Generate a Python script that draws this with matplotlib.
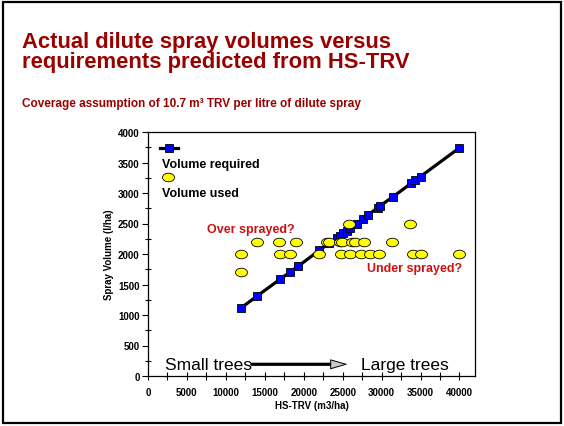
import matplotlib
matplotlib.use("Agg")
import matplotlib.pyplot as plt
from matplotlib.path import Path
from matplotlib.transforms import Affine2D
from matplotlib.ticker import MultipleLocator
from matplotlib.patches import Rectangle

plt.rcParams['font.family'] = ['Liberation Sans', 'DejaVu Sans']

# volume required (HS-TRV m3/ha, spray l/ha)
req_x = [12000, 14000, 17000, 18200, 19300, 22000, 23300, 24300, 24600, 25000, 25500,
         26000, 26800, 27600, 28300, 29500, 29800, 31500, 33800, 34300, 35000, 40000]
req_y = [1120, 1310, 1590, 1700, 1800, 2060, 2180, 2270, 2300, 2340, 2380,
         2430, 2500, 2580, 2640, 2760, 2790, 2940, 3160, 3210, 3270, 3740]

# volume used
used_x = [12000,
          12000, 17000, 18200, 22000, 24800, 26000, 27400, 28500, 29700, 34000, 35000, 40000,
          14000, 16800, 19000, 23000, 23300, 24600, 24900, 26200, 26600, 27700, 31300,
          25800, 33700]
used_y = [1700,
          2000, 2000, 2000, 2000, 2000, 2000, 2000, 2000, 2000, 2000, 2000, 2000,
          2200, 2200, 2200, 2200, 2200, 2200, 2200, 2200, 2200, 2200, 2200,
          2500, 2500]

title1 = "Actual dilute spray volumes versus"
title2 = "requirements predicted from HS-TRV"
subtitle = "Coverage assumption of 10.7 m\u00b3 TRV per litre of dilute spray"
dark_red = '#990000'
red = '#cc1111'

fig = plt.figure(figsize=(5.64, 4.27), dpi=100)
W, H = 564, 427

# slide frame
fig.patches.append(Rectangle((3 / W, 3 / H), 558 / W, 421 / H, transform=fig.transFigure,
                             fill=False, edgecolor='black', lw=1.6))

fig.text(22 / W, 1 - 48 / H, title1, color=dark_red, fontsize=15.8, fontweight='bold', va='baseline')
fig.text(22 / W, 1 - 68 / H, title2, color=dark_red, fontsize=15.8, fontweight='bold', va='baseline')
fig.text(22 / W, 1 - 107.5 / H, subtitle, color=dark_red, fontsize=8.5, fontweight='bold', va='baseline')

ax = fig.add_axes([148 / W, 1 - 377 / H, 327 / W, 244 / H])

ell = Path.unit_circle().transformed(Affine2D().scale(1.0, 0.72))

ax.plot(req_x, req_y, '-s', color='black', lw=2.3, ms=6.4, mfc='#0000ff', mec='black', mew=0.6,
        zorder=3, clip_on=False)
ax.plot(used_x, used_y, ls='none', marker=ell, ms=8.6, mfc='#ffff00', mec='black', mew=0.6,
        zorder=4, clip_on=False)

ax.set_xlim(0, 42000)
ax.set_ylim(0, 4000)
ax.xaxis.set_major_locator(MultipleLocator(5000))
ax.xaxis.set_minor_locator(MultipleLocator(2500))
ax.yaxis.set_major_locator(MultipleLocator(500))
ax.yaxis.set_minor_locator(MultipleLocator(250))
ax.set_xticks([0, 5000, 10000, 15000, 20000, 25000, 30000, 35000, 40000])
ax.tick_params(axis='x', which='both', direction='inout', length=6, width=0.8)
ax.tick_params(axis='y', which='major', direction='out', length=4, width=0.8)
ax.tick_params(axis='y', which='minor', direction='inout', length=5, width=0.8)
ax.tick_params(which='both', top=False, right=False)
for lab in ax.get_xticklabels() + ax.get_yticklabels():
    lab.set_fontsize(7)
    lab.set_fontweight('bold')
ax.tick_params(axis='x', pad=5)
ax.tick_params(axis='y', pad=2)
for s in ax.spines.values():
    s.set_linewidth(0.9)

ax.set_xlabel("HS-TRV (m3/ha)", fontsize=7, fontweight='bold', labelpad=2)
ax.set_ylabel("Spray Volume (l/ha)", fontsize=7, fontweight='bold', labelpad=3)

# legend drawn inside the plot area
ax.plot([0.037, 0.092], [0.934, 0.934], color='black', lw=2.3, transform=ax.transAxes)
ax.plot([0.064], [0.934], 's', ms=6.4, mfc='#0000ff', mec='black', mew=0.6, transform=ax.transAxes)
ax.text(0.043, 0.869, "Volume required", fontsize=9, fontweight='bold', va='center',
        transform=ax.transAxes)
ax.plot([0.061], [0.816], ls='none', marker=ell, ms=8.6, mfc='#ffff00', mec='black', mew=0.6,
        transform=ax.transAxes)
ax.text(0.043, 0.75, "Volume used", fontsize=9, fontweight='bold', va='center',
        transform=ax.transAxes)

ax.text(7560, 2405, "Over sprayed?", color=red, fontsize=9, fontweight='bold', va='center')
ax.text(28080, 1766, "Under sprayed?", color=red, fontsize=9, fontweight='bold', va='center')

ax.text(2180, 192, "Small trees", fontsize=12.5, va='center')
ax.text(27300, 192, "Large trees", fontsize=12.5, va='center')
ax.annotate("", xy=(23900, 192), xytext=(13330, 192),
            arrowprops=dict(arrowstyle='-', color='black', lw=2.3, shrinkA=0, shrinkB=0))
ax.annotate("", xy=(25650, 192), xytext=(23700, 192),
            arrowprops=dict(arrowstyle='-|>,head_length=1.1,head_width=0.32', facecolor='#c8c8c8',
                            edgecolor='black', lw=0.7, shrinkA=0, shrinkB=0))

fig.savefig("out.png", dpi=100)
